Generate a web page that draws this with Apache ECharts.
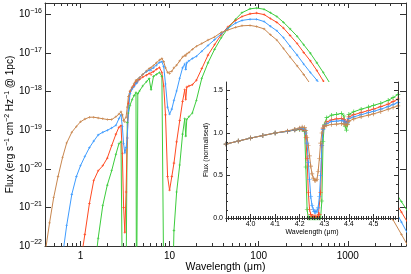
<!DOCTYPE html>
<html><head><meta charset="utf-8">
<script src="https://cdn.jsdelivr.net/npm/echarts@6/dist/echarts.min.js"></script>
<style>html,body{margin:0;padding:0;background:#fff}#c{width:411px;height:274px}</style>
</head><body><div id="c"></div>
<script>
// ---- main panel: wavelength (micron) and log10 flux for the four models ----
const wavelength = [0.40,0.45,0.50,0.56,0.63,0.70,0.80,0.90,1.0,1.12,
  1.26,1.41,1.58,1.78,2.0,2.24,2.5,2.7,2.85,2.95,
  3.05,3.15,3.25,3.35,3.45,3.6,3.8,4.0,4.2,4.25,
  4.3,4.4,4.6,5.0,5.5,5.9,6.2,6.6,7.1,7.7,
  8.2,8.6,9.0,9.5,10.0,10.6,11.2,12.0,13.0,14.0,
  14.8,15.2,15.6,16.5,18.0,20.0,23.0,27.0,32.0,38.0,
  45,55,65,80,95,115,135,160,190,225,
  270,320,380,450,530,630,1000,1600,2500,3200,
  4000,5000];
const logFluxBrown = [-22.2,-21.4,-20.75,-20.2,-19.7,-19.33,-19.05,-18.9,-18.78,-18.71,
  -18.66,-18.66,-18.68,-18.70,-18.72,-18.72,-18.65,-18.58,-18.52,-18.6,
  -18.75,-18.78,-18.66,-18.4,-18.12,-17.98,-17.88,-17.78,-17.7,-17.72,
  -17.72,-17.68,-17.63,-17.55,-17.46,-17.40,-17.38,-17.32,-17.25,-17.18,
  -17.14,-17.22,-17.38,-17.50,-17.53,-17.47,-17.38,-17.31,-17.20,-17.10,
  -17.06,-17.07,-17.02,-16.98,-16.9,-16.82,-16.75,-16.66,-16.58,-16.46,
  -16.40,-16.33,-16.29,-16.28,-16.31,-16.37,-16.52,-16.66,-16.88,-17.10,
  -17.33,-17.55,-17.80,-18.08,-18.35,-18.64,-19.4,-20.17,-20.91,-21.31,
  -21.70,-22.1];
const logFluxBlue = [-25.5,-25,-24.5,-23.4,-22.25,-21.47,-20.66,-20.2,-19.92,-19.68,
  -19.45,-19.28,-19.12,-19.05,-19.0,-18.94,-18.87,-18.7,-18.6,-18.9,
  -19.35,-19.59,-19.45,-19.2,-18.5,-18.05,-17.93,-17.87,-17.78,-17.78,
  -17.76,-17.72,-17.64,-17.55,-17.48,-17.44,-17.45,-17.38,-17.31,-17.24,
  -17.22,-17.35,-17.8,-18.4,-18.58,-18.45,-18.22,-17.98,-17.65,-17.38,
  -17.28,-17.42,-17.25,-17.2,-17.14,-17.08,-16.95,-16.8,-16.65,-16.5,
  -16.36,-16.22,-16.15,-16.12,-16.12,-16.18,-16.3,-16.42,-16.6,-16.82,
  -17.05,-17.28,-17.5,-17.7,-17.92,-18.2,-19.0,-19.8,-20.55,-20.95,
  -21.38,-21.8];
const logFluxRed = [-27,-26.5,-26,-25.5,-25,-24.5,-23.9,-23.2,-22.45,-21.7,
  -20.9,-20.3,-20.05,-19.92,-19.72,-19.4,-19.1,-18.92,-18.88,-19.6,
  -21.0,-21.65,-20.6,-19.2,-18.3,-18.0,-17.9,-17.84,-17.74,-17.76,
  -17.76,-17.72,-17.68,-17.62,-17.57,-17.53,-17.56,-17.48,-17.42,-17.37,
  -17.5,-17.85,-18.6,-20.2,-20.55,-20.2,-19.85,-19.3,-18.75,-18.25,
  -17.95,-18.2,-17.88,-17.85,-17.82,-17.7,-17.4,-17.05,-16.78,-16.52,
  -16.32,-16.15,-16.05,-15.98,-15.96,-16.0,-16.1,-16.2,-16.35,-16.54,
  -16.75,-16.98,-17.2,-17.45,-17.72,-18.0,-18.8,-19.6,-20.35,-20.75,
  -21.12,-21.5];
const logFluxGreen = [-30,-29.5,-29,-28.5,-28,-27.5,-27,-26.5,-26,-25,
  -24,-22.8,-21.8,-20.95,-20.42,-20.05,-19.62,-19.35,-19.3,-23,
  -24,-24,-23,-18.8,-18.55,-18.35,-18.2,-18.1,-18.02,-24,
  -24,-18.05,-17.98,-17.85,-17.74,-17.66,-17.95,-17.6,-17.55,-17.5,
  -17.6,-23,-25,-25,-25,-24,-21.6,-20.6,-19.9,-19.1,
  -18.7,-19.15,-18.72,-18.65,-18.55,-18.22,-17.65,-17.25,-16.9,-16.6,
  -16.36,-16.12,-15.95,-15.85,-15.83,-15.86,-15.95,-16.05,-16.2,-16.37,
  -16.56,-16.78,-17.0,-17.25,-17.5,-17.78,-18.55,-19.35,-20.1,-20.5,
  -20.85,-21.2];

// ---- inset: 4.3 micron CO2 band, normalised flux ----
const insetWavelength = [3.90,3.95,4.00,4.05,4.10,4.15,4.18,4.20,4.21,4.22,
  4.225,4.23,4.235,4.24,4.245,4.25,4.255,4.26,4.265,4.27,
  4.275,4.28,4.285,4.29,4.295,4.30,4.31,4.33,4.35,4.37,
  4.38,4.385,4.39,4.395,4.40,4.42,4.45,4.48,4.50,4.53,
  4.56,4.58,4.60];
const normGreen = [0.87,0.905,0.94,0.97,1.0,1.02,1.035,1.04,1.04,1.02,
  0.6,0.1,0.0,0.0,0.0,0.0,0.0,0.0,0.0,0.0,
  0.0,0.0,0.0,0.2,0.9,1.1,1.18,1.21,1.22,1.23,
  1.2,1.08,1.035,1.1,1.22,1.25,1.28,1.305,1.325,1.35,
  1.385,1.415,1.455];
const normRed = [0.87,0.905,0.94,0.97,1.0,1.02,1.035,1.045,1.045,1.03,
  0.95,0.7,0.3,0.1,0.04,0.02,0.015,0.015,0.015,0.015,
  0.02,0.04,0.3,0.85,1.05,1.09,1.13,1.155,1.165,1.17,
  1.16,1.13,1.12,1.14,1.19,1.215,1.24,1.265,1.28,1.31,
  1.34,1.37,1.40];
const normBlue = [0.87,0.905,0.94,0.97,1.0,1.02,1.037,1.05,1.055,1.045,
  1.0,0.88,0.65,0.45,0.25,0.15,0.10,0.075,0.07,0.08,
  0.12,0.25,0.5,0.85,1.04,1.08,1.11,1.135,1.14,1.145,
  1.14,1.12,1.11,1.125,1.17,1.19,1.215,1.24,1.255,1.28,
  1.31,1.335,1.36];
const normBrown = [0.87,0.905,0.94,0.97,1.0,1.025,1.045,1.06,1.07,1.065,
  1.03,0.95,0.85,0.73,0.61,0.52,0.47,0.445,0.44,0.45,
  0.55,0.7,0.88,1.0,1.06,1.075,1.09,1.1,1.105,1.11,
  1.105,1.1,1.095,1.105,1.14,1.165,1.19,1.21,1.225,1.25,
  1.28,1.30,1.32];

// ---- tick values ----
const xMinorTicks = [0.5,0.6,0.7,0.8,0.9,2,3,4,5,6,7,8,9,20,30,40,50,60,70,80,90,
  200,300,400,500,600,700,800,900,2000,3000,4000];
const insetYMinorTicks = [0.1,0.2,0.3,0.4,0.6,0.7,0.8,0.9,1.1,1.2,1.3,1.4];

// The flux axis is drawn in units of 1e-22 erg/s/cm2/Hz (ECharts rounds tiny numbers),
// and its labels are shifted back to the true powers of ten.
const FLUX_EXP_OFFSET = 22;
const FONT = '"Liberation Sans", Arial, Helvetica, sans-serif';
const AX = '#333';
const X_MIN = 0.4, X_MAX = 4500, Y_MIN = 1, Y_MAX = 2e6;
const plusMain = 'path://M-1,-0.25L1,-0.25L1,0.25L-1,0.25ZM-0.25,-1L0.25,-1L0.25,1L-0.25,1Z';
const plusInset = 'path://M-1,-0.16L1,-0.16L1,0.16L-1,0.16ZM-0.16,-1L0.16,-1L0.16,1L-0.16,1Z';

const models = [
  {color: '#3ccc3c', main: logFluxGreen, inset: normGreen},
  {color: '#ff4a22', main: logFluxRed, inset: normRed},
  {color: '#3d9bff', main: logFluxBlue, inset: normBlue},
  {color: '#c8864e', main: logFluxBrown, inset: normBrown}
];

function isPow10(v) { const l = Math.log10(v); return Math.abs(l - Math.round(l)) < 1e-6; }
function xLab(v) { return isPow10(v) ? String(Math.round(Math.pow(10, Math.round(Math.log10(v))) * 1000) / 1000) : ''; }
function yLab(v) {
  if (!isPow10(v)) return '';
  const e = Math.round(Math.log10(v)) - FLUX_EXP_OFFSET;
  return '{b|10}{s|' + (e < 0 ? '\u2212' : '') + Math.abs(e) + '}';
}

const series = [];
models.forEach(function (m) {
  series.push({
    type: 'line', xAxisIndex: 0, yAxisIndex: 0, z: 2, clip: true,
    data: wavelength.map(function (w, i) { return [w, Math.pow(10, m.main[i] + FLUX_EXP_OFFSET)]; }),
    symbol: plusMain, symbolSize: 2.5, showSymbol: true, showAllSymbol: true,
    lineStyle: {width: 1, color: m.color}, itemStyle: {color: m.color},
    animation: false, silent: true
  });
});
models.forEach(function (m) {
  series.push({
    type: 'line', xAxisIndex: 2, yAxisIndex: 2, z: 11, clip: true,
    data: insetWavelength.map(function (w, i) { return [w, m.inset[i]]; }),
    symbol: plusInset, symbolSize: 4.5, showSymbol: true, showAllSymbol: true,
    lineStyle: {width: 1, color: m.color}, itemStyle: {color: m.color},
    animation: false, silent: true
  });
});
series.push({
  type: 'custom', xAxisIndex: 0, yAxisIndex: 0, z: 3, silent: true, animation: false,
  data: xMinorTicks.map(function (v) { return [v, Y_MIN]; }),
  renderItem: function (params, api) {
    const pb = api.coord([api.value(0), Y_MIN]);
    const pt = api.coord([api.value(0), Y_MAX]);
    const x = Math.round(pb[0]) + 0.5;
    return {type: 'group', children: [
      {type: 'line', shape: {x1: x, y1: pb[1], x2: x, y2: pb[1] - 3}, style: {stroke: AX, lineWidth: 1}},
      {type: 'line', shape: {x1: x, y1: pt[1], x2: x, y2: pt[1] + 3}, style: {stroke: AX, lineWidth: 1}}
    ]};
  }
});
series.push({
  type: 'custom', xAxisIndex: 2, yAxisIndex: 2, z: 13, silent: true, animation: false,
  data: insetYMinorTicks.map(function (v) { return [3.9, v]; }),
  renderItem: function (params, api) {
    const pl = api.coord([3.9, api.value(1)]);
    const pr = api.coord([4.6, api.value(1)]);
    const y = Math.round(pl[1]) + 0.5;
    return {type: 'group', children: [
      {type: 'line', shape: {x1: pl[0], y1: y, x2: pl[0] + 2, y2: y}, style: {stroke: AX, lineWidth: 1}},
      {type: 'line', shape: {x1: pr[0], y1: y, x2: pr[0] - 2, y2: y}, style: {stroke: AX, lineWidth: 1}}
    ]};
  }
});

const axLine = {show: true, lineStyle: {color: AX, width: 1}};
const lblStyle = {color: '#000', fontFamily: FONT};

const option = {
  animation: false,
  backgroundColor: '#fff',
  grid: [
    {left: 45, top: 3, width: 361, height: 243, containLabel: false, outerBoundsMode: 'none'},
    {left: 226, top: 82, width: 172, height: 136, containLabel: false, outerBoundsMode: 'none',
      show: true, backgroundColor: '#fff', borderWidth: 0, z: 10}
  ],
  xAxis: [
    {gridIndex: 0, type: 'log', logBase: 10, min: X_MIN, max: X_MAX, position: 'bottom',
      axisLine: axLine, axisTick: {inside: true, length: 5, lineStyle: {color: AX}}, splitLine: {show: false},
      axisLabel: Object.assign({formatter: xLab, fontSize: 10, margin: 5}, lblStyle),
      name: 'Wavelength (\u03bcm)', nameLocation: 'middle', nameGap: 16, nameMoveOverlap: false,
      nameTextStyle: Object.assign({fontSize: 10.5}, lblStyle)},
    {gridIndex: 0, type: 'log', logBase: 10, min: X_MIN, max: X_MAX, position: 'top',
      axisLine: axLine, axisTick: {inside: true, length: 5, lineStyle: {color: AX}}, splitLine: {show: false},
      axisLabel: {show: false}},
    {gridIndex: 1, type: 'value', min: 3.9, max: 4.6, interval: 0.1, position: 'bottom', z: 12,
      axisLine: axLine, axisTick: {inside: true, length: 4, lineStyle: {color: AX}},
      minorTick: {show: true, splitNumber: 10, length: 2, lineStyle: {color: AX}},
      splitLine: {show: false}, minorSplitLine: {show: false},
      axisLabel: Object.assign({formatter: function (v) { return v.toFixed(1); }, fontSize: 7, margin: 3,
        showMinLabel: false, showMaxLabel: false}, lblStyle),
      name: 'Wavelength (\u03bcm)', nameLocation: 'middle', nameGap: 11, nameMoveOverlap: false,
      nameTextStyle: Object.assign({fontSize: 7}, lblStyle)},
    {gridIndex: 1, type: 'value', min: 3.9, max: 4.6, interval: 0.1, position: 'top', z: 12,
      axisLine: axLine, axisTick: {inside: true, length: 4, lineStyle: {color: AX}},
      minorTick: {show: true, splitNumber: 10, length: 2, lineStyle: {color: AX}},
      splitLine: {show: false}, axisLabel: {show: false}}
  ],
  yAxis: [
    {gridIndex: 0, type: 'log', logBase: 10, min: Y_MIN, max: Y_MAX, position: 'left',
      axisLine: axLine, axisTick: {inside: true, length: 6, lineStyle: {color: AX}}, splitLine: {show: false},
      axisLabel: {formatter: yLab, margin: 3,
        rich: {b: {fontSize: 10, fontFamily: FONT, color: '#000'},
               s: {fontSize: 7, fontFamily: FONT, color: '#000', padding: [0, 0, 7, 0]}}},
      name: '{t|Flux (erg s}{s|\u22121}{t| cm}{s|\u22122}{t| Hz}{s|\u22121}{t| @ 1pc)}',
      nameLocation: 'middle', nameGap: 28, nameMoveOverlap: false,
      nameTextStyle: {rich: {t: {fontSize: 10, fontFamily: FONT, color: '#000'},
                             s: {fontSize: 7, fontFamily: FONT, color: '#000', padding: [0, 0, 6, 0]}}}},
    {gridIndex: 0, type: 'log', logBase: 10, min: Y_MIN, max: Y_MAX, position: 'right',
      axisLine: axLine, axisTick: {inside: true, length: 6, lineStyle: {color: AX}}, splitLine: {show: false},
      axisLabel: {show: false}},
    {gridIndex: 1, type: 'value', min: 0, max: 1.6, interval: 0.5, position: 'left', z: 12,
      axisLine: axLine, axisTick: {inside: true, length: 4, lineStyle: {color: AX}}, splitLine: {show: false},
      axisLabel: Object.assign({formatter: function (v) { return v.toFixed(1); }, fontSize: 7, margin: 3,
        showMaxLabel: false}, lblStyle),
      name: 'Flux (normalised)', nameLocation: 'middle', nameGap: 16, nameMoveOverlap: false,
      nameTextStyle: Object.assign({fontSize: 7}, lblStyle)},
    {gridIndex: 1, type: 'value', min: 0, max: 1.6, interval: 0.5, position: 'right', z: 12,
      axisLine: axLine, axisTick: {inside: true, length: 4, lineStyle: {color: AX}}, splitLine: {show: false},
      axisLabel: {show: false}}
  ],
  series: series
};

const chart = echarts.init(document.getElementById('c'), null, {renderer: 'canvas'});
chart.setOption(option);
</script>
</body></html>
